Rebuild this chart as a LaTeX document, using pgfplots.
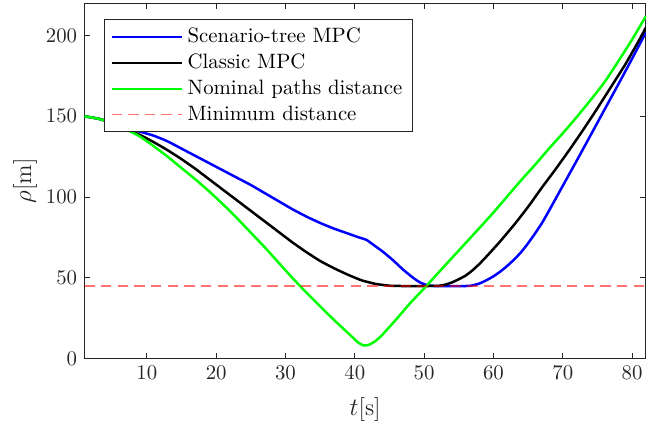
\documentclass[border=0pt]{standalone}
\usepackage{pgfplots}
\pgfplotsset{compat=1.18}
\definecolor{axgray}{RGB}{38,38,38}
\definecolor{mgreen}{RGB}{0,255,0}
\definecolor{mblue}{RGB}{0,0,255}
\begin{document}
\begin{tikzpicture}
\begin{axis}[
    scale only axis,
    width=270pt, height=171pt,
    xmin=1, xmax=82, ymin=0, ymax=220,
    xtick={10,20,...,80}, ytick={0,50,...,200},
    tick align=inside, major tick length=2.8pt,
    axis line style={axgray, line width=0.5pt},
    every tick/.style={axgray, line width=0.5pt},
    tick label style={text=axgray, font=\fontsize{10}{12}\selectfont},
    xlabel={$t$[s]}, ylabel={$\rho$[m]},
    label style={text=axgray, font=\fontsize{11.5}{13}\selectfont},
    xlabel style={at={(axis description cs:0.5,-0.144)}, anchor=center},
    ylabel style={at={(axis description cs:-0.1056,0.5)}, anchor=center},
    legend style={at={(axis description cs:0.034,0.955)}, anchor=north west,
        draw=axgray, line width=0.5pt, font=\fontsize{10}{12}\selectfont,
        inner xsep=3pt, inner ysep=2pt},
    legend cell align=left,
    legend image code/.code={\draw[#1] (0pt,0pt) -- (34pt,0pt);},
]
\addplot[draw=mblue, line width=1.2pt, smooth, tension=0.3] coordinates {
(1,150)(3,148.5)(5,146)(7,142.5)(9,140.5)(11,138)(13,134.5)(15,130)(17,125.5)
(19,121)(21,116.5)(23,112)(25,107.5)(27,102.5)(29,97.5)(31,92.5)(33,88)(35,84)
(37,80.5)(39,77.5)(40.5,75.2)(41.7,73.5)(43,69.5)(44,66.4)(45.5,61)(47,55)
(48.5,49.8)(49.5,47)(50.5,45.5)(51.5,45)(56,45)(57,45.4)(58,46.6)(59,48.6)
(60,51)(61,54)(62,57.5)(63,61.5)(64,66)(65,71.5)(66,77.5)(67,84)(68,91.5)
(70,107)(72,122.5)(74,138.2)(76,154)(78,169.7)(80,185.7)(82,202)};
\addlegendentry{Scenario-tree MPC}
\addplot[draw=black, line width=1.2pt, smooth, tension=0.3] coordinates {
(1,150)(3,148.5)(5,146)(7,142)(9,138.5)(11,134)(13,129)(15,123.5)(17,117.5)
(19,111)(21,104.5)(23,98)(25,91.5)(27,85)(29,78.5)(31,72)(33,66)(35,60.5)
(37,56)(39,52)(41,48.5)(43,46.3)(45,45.2)(47,45)(50,45)(52,45.1)(53,45.8)
(54,47.2)(55,49.2)(56,51.5)(57,54.8)(58,58.8)(59,63.3)(60,68)(61,72.8)(63,83)
(65,94)(67,106)(69,117.5)(71,129.5)(73,142)(75,155)(77,168.5)(79,182)(81,197)
(82,205)};
\addlegendentry{Classic MPC}
\addplot[draw=mgreen, line width=1.2pt, smooth, tension=0.3] coordinates {
(1,150)(3,148.5)(5,146)(7,142)(9,137.5)(11,131.5)(13,125)(15,118)(17,111)
(19,103.5)(21,95.5)(23,87)(25,78)(27,69)(29,59.5)(31,50)(33,41)(35,32.5)
(37,24)(38.5,18)(39.5,14)(40.5,10)(41.3,8.2)(42,8.6)(43,11)(44,15)(46,24.5)
(48,34.5)(50,43.5)(52,53)(55,67)(58,81)(60,90.5)(62,100.5)(64,110.5)(66,120)
(68,130)(70,139.5)(72,149.5)(74,160)(76,171)(78,184)(80,197.5)(82,212)};
\addlegendentry{Nominal paths distance}
\addplot[draw=red, draw opacity=0.55, line width=0.6pt, dash pattern=on 5pt off 3pt] coordinates {(1,45)(82,45)};
\addlegendentry{Minimum distance}
\end{axis}
\pgfresetboundingbox
\path ([shift={(-40.6pt,-34.2pt)}]current axis.south west) rectangle ([shift={(0pt,1.5pt)}]current axis.north east);
\end{tikzpicture}
\end{document}
